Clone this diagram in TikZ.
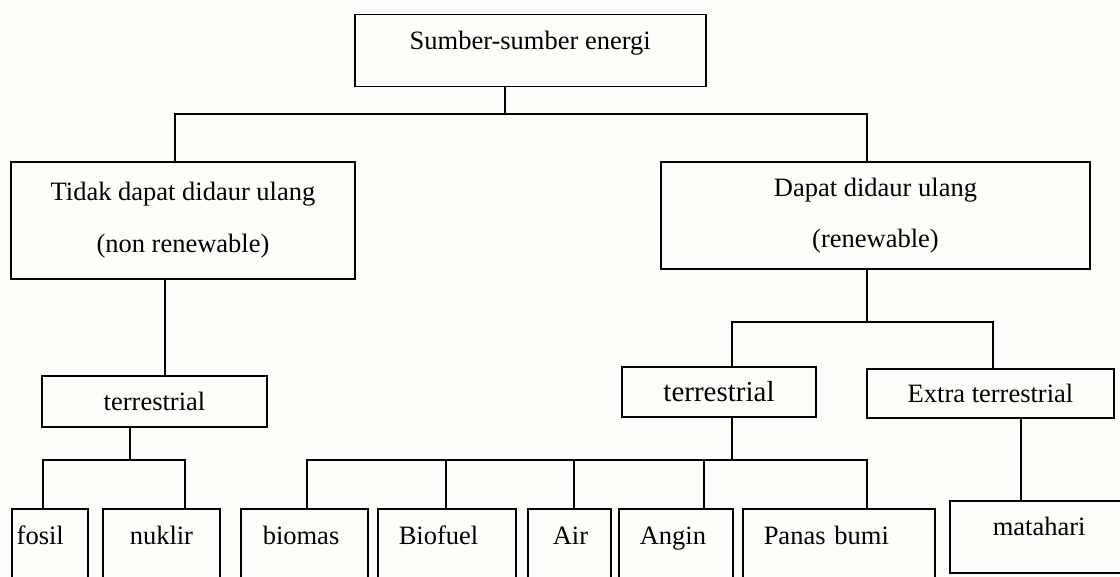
\documentclass[tikz,border=0pt]{standalone}
\usepackage{fontspec}
\setmainfont{Liberation Serif}
\definecolor{bgcream}{RGB}{253,253,249}
\setlength{\parindent}{0pt}

\begin{document}
\begin{tikzpicture}[x=1pt, y=-1pt, line width=1.5pt,
  box/.style={draw, rectangle, inner sep=0pt, font=\fontsize{26.5}{32}\selectfont},
  mid/.style={box, align=center},
  leaf/.style={box, anchor=north west, text width=#1pt, align=left, text height=36pt, text depth=70pt}]
\clip (0,0) rectangle (1120,577);
\fill[bgcream] (0,0) rectangle (1120,577);

% Top level
\node[box, anchor=north west, minimum width=351pt, text height=35pt, text depth=37pt] (sumber) at (354,14) {Sumber-sumber energi};

% Second level
\node[mid, minimum width=344pt, minimum height=117pt] (nonren) at (183,220.5) {Tidak dapat didaur ulang\\[20pt](non renewable)};
\node[mid, minimum width=429pt, minimum height=107pt] (ren) at (875.5,215.5) {Dapat didaur ulang\\[19pt](renewable)};

% Third level
\node[box, minimum width=225pt, minimum height=51pt] (terrA) at (154.5,401.5) {terrestrial};
\node[box, minimum width=194pt, minimum height=50pt, font=\fontsize{29}{34}\selectfont] (terrB) at (719,392) {terrestrial};
\node[box, minimum width=247pt, minimum height=49pt] (extra) at (990.5,393.5) {Extra terrestrial};

% Leaves
\node[leaf=76] (fosil) at (11,508) {\hspace*{5pt}fosil};
\node[leaf=117] (nuklir) at (102,508) {\hspace*{27pt}nuklir};
\node[leaf=127] (biomas) at (240,508) {\hspace*{22pt}biomas};
\node[leaf=138] (biofuel) at (377,508) {\hspace*{21pt}Biofuel};
\node[leaf=83] (air) at (527,508) {\hspace*{25pt}Air};
\node[leaf=114] (angin) at (618,508) {\hspace*{21pt}Angin};
\node[leaf=192] (panas) at (742,508) {\hspace*{21pt}Panas bumi};
\node[leaf=190, text height=35pt, text depth=37pt] (matahari) at (949,500) {\hspace*{43pt}matahari};

% Connectors
\coordinate (b1) at (505,114);
\draw (b1 |- sumber.south) -- (b1);
\draw ([xshift=-8pt]nonren.north) |- (b1) -| ([xshift=-8.5pt]ren.north);

\coordinate (b2) at (867,322);
\draw ([xshift=-8.5pt]ren.south) -- (b2);
\draw ([xshift=13pt]terrB.north) |- (b2) -| ([xshift=2.5pt]extra.north);

\coordinate (s1) at ([xshift=-18pt]nonren.south);
\draw (s1) -- (s1 |- terrA.north);

\coordinate (b3) at (130,460);
\draw (b3 |- terrA.south) -- (b3);
\draw ([xshift=32pt]fosil.north west) |- (b3) -| ([xshift=83pt]nuklir.north west);

\coordinate (b4) at (732,460);
\draw (b4 |- terrB.south) -- (b4);
\draw ([xshift=67pt]biomas.north west) |- (b4) -| ([xshift=125pt]panas.north west);
\foreach \n/\dx in {biofuel/69, air/47, angin/86} {
  \coordinate (t) at ([xshift=\dx pt]\n.north west);
  \draw (t) -- (t |- b4);
}

\coordinate (s2) at ([xshift=30.5pt]extra.south);
\draw (s2) -- (s2 |- matahari.north);
\end{tikzpicture}
\end{document}
